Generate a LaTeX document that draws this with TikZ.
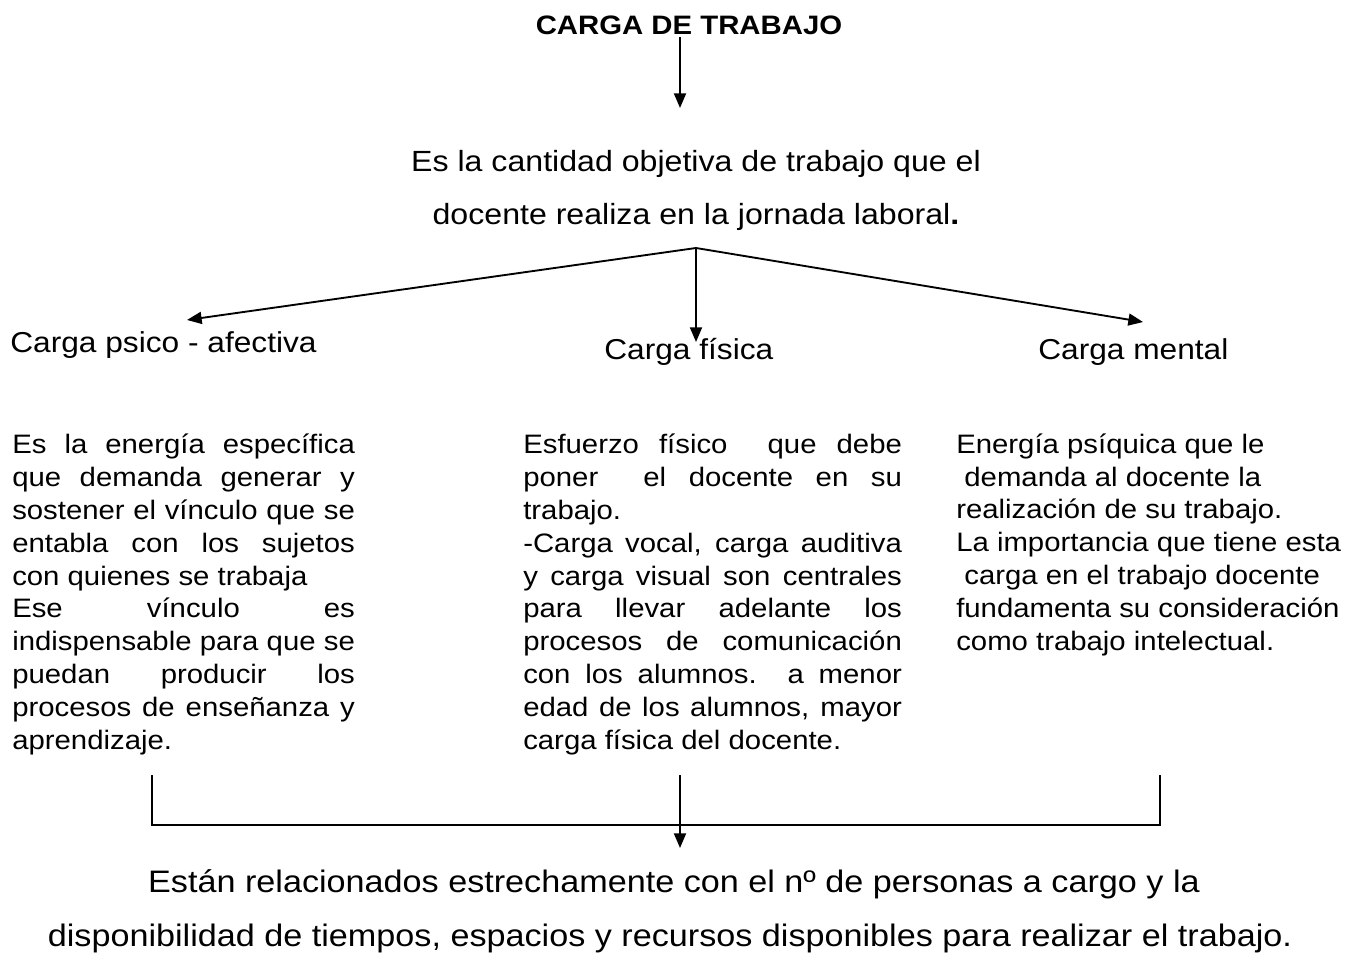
\documentclass[tikz,border=0pt]{standalone}
\usepackage{fontspec}
\setmainfont{Liberation Sans}[FakeStretch=1.1]
\usetikzlibrary{arrows.meta}
\newcommand\J[2]{\makebox[#1][s]{#2}}
\newcommand\Lf[1]{\mbox{#1}}
\begin{document}
\begin{tikzpicture}[x=0.75pt,y=-0.75pt,
  arr/.style={line width=1.4pt,-{Triangle[length=11pt,width=9pt]}},
  ln/.style={line width=1.1pt},
  body/.style={inner sep=0pt,align=left,font=\fontsize{20}{24.6}\selectfont},
  head/.style={inner sep=0pt,font=\fontsize{21.6}{26}\selectfont},
  foot/.style={inner sep=0pt,font=\fontsize{23.3}{28}\selectfont}]
\useasboundingbox[fill=white] (0,0) rectangle (1357,980);

\node[inner sep=0pt,anchor=base,font=\bfseries\fontsize{20}{24}\selectfont] (title) at (689,35) {CARGA DE TRABAJO};
\node[head,anchor=base,font=\fontsize{21.9}{26}\selectfont] (d1) at (696,172) {Es la cantidad objetiva de trabajo que el};
\node[head,anchor=base,font=\fontsize{21.9}{26}\selectfont] (d2) at (696,225) {docente realiza en la jornada laboral\textbf{.}};

\coordinate (tA) at (680,37);
\coordinate (tB) at (680,108);
\draw[arr] (tA) -- (tB);

\coordinate (apex) at (696,248);
\coordinate (tipL) at (187,320);
\coordinate (tipM) at (696,342);
\coordinate (tipR) at (1143,322);
\draw[arr] (apex) -- (tipL);
\draw[arr] (apex) -- (tipM);
\draw[arr] (apex) -- (tipR);

\node[head,anchor=base west] (hL) at (10,353) {Carga psico - afectiva};
\node[head,anchor=base west] (hM) at (604,360) {Carga física};
\node[head,anchor=base west] (hR) at (1038,360) {Carga mental};

\node[body,anchor=base west] (cL) at (12,749) {%
\J{257pt}{Es la energía específica}\\
\J{257pt}{que demanda generar y}\\
\J{257pt}{sostener el vínculo que se}\\
\J{257pt}{entabla con los sujetos}\\
\Lf{con quienes se trabaja}\\
\J{257pt}{Ese vínculo es}\\
\J{257pt}{indispensable para que se}\\
\J{257pt}{puedan producir los}\\
\J{257pt}{procesos de enseñanza y}\\
\Lf{aprendizaje.}};

\node[body,anchor=base west] (cM) at (523,749) {%
\J{284pt}{Esfuerzo físico\ \ que debe}\\
\J{284pt}{poner\ \ el docente en su}\\
\Lf{trabajo.}\\
\J{284pt}{-Carga vocal, carga auditiva}\\
\J{284pt}{y carga visual son centrales}\\
\J{284pt}{para llevar adelante los}\\
\J{284pt}{procesos de comunicación}\\
\J{284pt}{con los alumnos. a menor}\\
\J{284pt}{edad de los alumnos, mayor}\\
\Lf{carga física del docente.}};

\node[body,anchor=base west] (cR) at (956,650) {%
\Lf{Energía psíquica que le}\\
\Lf{\ demanda al docente la}\\
\Lf{realización de su trabajo.}\\
\Lf{La importancia que tiene esta}\\
\Lf{\ carga en el trabajo docente}\\
\Lf{fundamenta su consideración}\\
\Lf{como trabajo intelectual.}};

\coordinate (bL) at (152,775);
\coordinate (bLd) at (152,825);
\coordinate (bR) at (1160,775);
\coordinate (bRd) at (1160,825);
\coordinate (bM) at (680,775);
\coordinate (bMt) at (680,848);
\draw[ln] (bL) -- (bLd) -- (bRd) -- (bR);
\draw[arr] (bM) -- (bMt);

\node[foot,anchor=base] (e1) at (674,892) {Están relacionados estrechamente con el nº de personas a cargo y la};
\node[foot,anchor=base] (e2) at (670,946) {disponibilidad de tiempos, espacios y recursos disponibles para realizar el trabajo.};
\end{tikzpicture}
\end{document}
